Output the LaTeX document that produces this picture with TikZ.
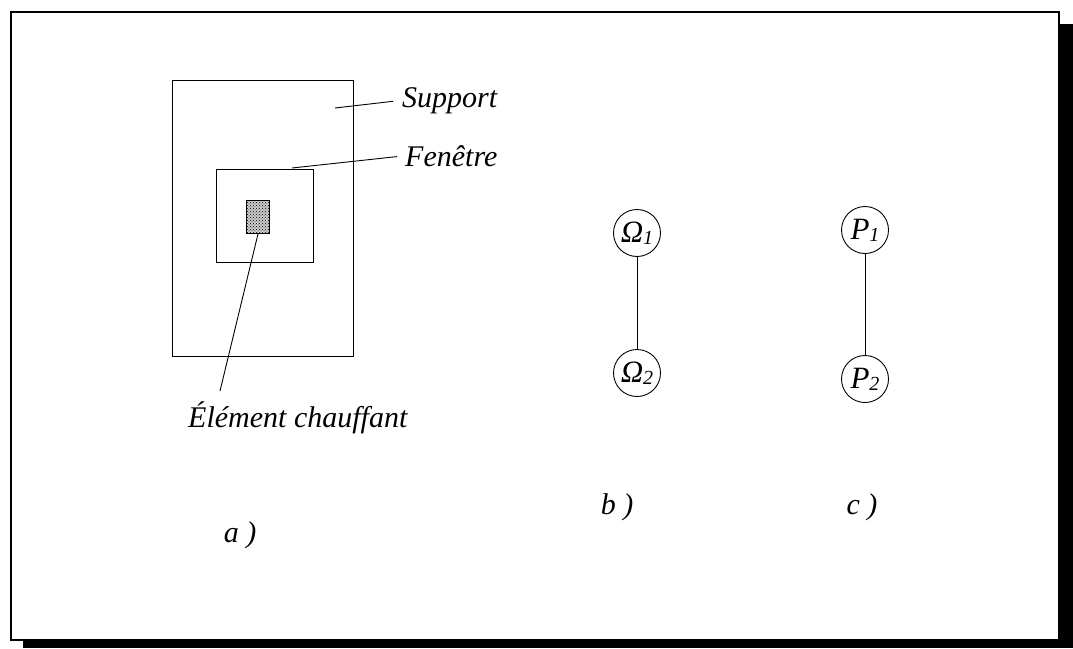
\documentclass[tikz,border=0pt]{standalone}
\usepackage{fontspec}
\setmainfont{Liberation Serif}
\usetikzlibrary{patterns}
\newcommand{\idx}[1]{{\fontsize{20}{20}\selectfont\raisebox{-2pt}{#1}}}
\begin{document}
\begin{tikzpicture}[x=1pt,y=-1pt,
  lbl/.style={font=\fontsize{30}{30}\selectfont\itshape, inner sep=0pt},
  part/.style={draw, line width=1pt, inner sep=0pt, anchor=north west},
  vtx/.style={draw, circle, minimum size=47pt, inner sep=0pt, line width=0.9pt,
              font=\fontsize{31}{31}\selectfont\itshape},
  leader/.style={line width=0.9pt},
  link/.style={line width=0.9pt}]
\useasboundingbox (0,0) rectangle (1073,648);
% frame with drop shadow
\fill (23,24) rectangle (1073,648);
\filldraw[fill=white, line width=2pt] (11,12) rectangle (1059,640);

% a) support, window and heating element
\node[part, minimum width=181pt, minimum height=276pt] (support) at (172,80) {};
\node[part, minimum width=97pt, minimum height=93pt] (window) at (216,169) {};
\fill[black!20] (246,200) rectangle (269,233);
\node[part, minimum width=23pt, minimum height=33pt, pattern=crosshatch dots,
      pattern color=black] (heater) at (246,200) {};

\node[lbl, anchor=base west] (tsupport) at (402,107) {Support};
\node[lbl, anchor=base west] (twindow) at (405,166) {Fenêtre};
\node[lbl, anchor=base west] (theater) at (188,427) {Élément chauffant};

\coordinate (psupport) at (335,108);
\coordinate (pwindow) at (292,168);
\coordinate (pheater) at (220,391);
\draw[leader, shorten >=9pt] (psupport) -- (tsupport.west);
\draw[leader, shorten >=8pt] (pwindow) -- (twindow.west);
\draw[leader] (heater.south) -- (pheater);

\node[lbl] (la) at (240,535) {a )};

% b) domains
\node[vtx] (o1) at (637,233) {Ω\idx{1}};
\node[vtx] (o2) at (637,373) {Ω\idx{2}};
\draw[link] (o1) -- (o2);
\node[lbl] (lb) at (617,507) {b )};

% c) points
\node[vtx] (p1) at (865,230) {P\idx{1}};
\node[vtx] (p2) at (865,379) {P\idx{2}};
\draw[link] (p1) -- (p2);
\node[lbl] (lc) at (862,507) {c )};
\end{tikzpicture}
\end{document}
